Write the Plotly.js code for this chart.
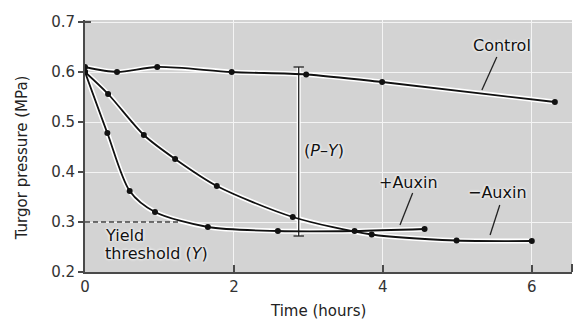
<!DOCTYPE html>
<html>
<head>
<meta charset="utf-8">
<script src="https://cdn.plot.ly/plotly-3.0.1.min.js"></script>
<style>html,body{margin:0;padding:0;background:#fff;}#chart{width:578px;height:321px;}</style>
</head>
<body>
<div id="chart"></div>
<script>
// Data
const controlT = [0, 0.43, 0.97, 1.97, 2.97, 3.99, 6.31];
const controlP = [0.61, 0.60, 0.61, 0.60, 0.595, 0.58, 0.54];
const plusAuxinT = [0, 0.30, 0.60, 0.94, 1.65, 2.59, 3.62, 4.56];
const plusAuxinP = [0.60, 0.478, 0.362, 0.32, 0.29, 0.282, 0.282, 0.286];
const minusAuxinT = [0, 0.31, 0.79, 1.21, 1.77, 2.79, 3.85, 4.99, 6.0];
const minusAuxinP = [0.60, 0.556, 0.474, 0.426, 0.372, 0.31, 0.275, 0.263, 0.262];
const yieldThreshold = 0.30;
const yieldLineEndT = 1.25;
const pyBracketT = 2.87;
const pyBracketTop = 0.61;
const pyBracketBottom = 0.272;
const xTicks = [0, 2, 4, 6];
const yTicks = [0.2, 0.3, 0.4, 0.5, 0.6, 0.7];

const font = "'DejaVu Sans', 'Open Sans', sans-serif";
const axisColor = '#4a4a4a';
const glow = '0 0 3px #fff, 0 0 3px #fff';

function halo(x, y) {
  return {x, y, mode: 'lines', line: {color: '#ffffff', width: 5, shape: 'spline', smoothing: 0.8},
    hoverinfo: 'skip', showlegend: false};
}
function series(x, y, name) {
  return {x, y, name, mode: 'lines+markers',
    line: {color: '#111', width: 1.8, shape: 'spline', smoothing: 0.8},
    marker: {color: '#111', size: 6}, showlegend: false};
}

const traces = [
  halo(controlT, controlP), halo(plusAuxinT, plusAuxinP), halo(minusAuxinT, minusAuxinP),
  {x: [0, yieldLineEndT], y: [yieldThreshold, yieldThreshold], mode: 'lines',
    line: {color: '#444', width: 1.3, dash: '5px,3px'}, showlegend: false, hoverinfo: 'skip'},
  {x: [pyBracketT, pyBracketT], y: [pyBracketBottom, pyBracketTop], mode: 'lines',
    line: {color: '#ffffff', width: 4}, showlegend: false, hoverinfo: 'skip'},
  {x: [pyBracketT, pyBracketT], y: [pyBracketBottom, pyBracketTop], mode: 'lines',
    line: {color: '#222', width: 1.3}, showlegend: false, hoverinfo: 'skip'},
  series(controlT, controlP, 'Control'),
  series(plusAuxinT, plusAuxinP, '+Auxin'),
  series(minusAuxinT, minusAuxinP, '−Auxin')
];

function leader(x0, y0, x1, y1) {
  return {type: 'line', xref: 'x', yref: 'y', x0, y0, x1, y1, line: {color: '#222', width: 1.3}};
}
const shapes = [
  leader(5.53, 0.63, 5.33, 0.564),
  leader(4.40, 0.358, 4.23, 0.294),
  leader(5.57, 0.334, 5.44, 0.274),
  {type: 'line', xref: 'x', yref: 'y', x0: pyBracketT - 0.07, x1: pyBracketT + 0.07, y0: pyBracketTop, y1: pyBracketTop, line: {color: '#222', width: 1.3}},
  {type: 'line', xref: 'x', yref: 'y', x0: pyBracketT - 0.07, x1: pyBracketT + 0.07, y0: pyBracketBottom, y1: pyBracketBottom, line: {color: '#222', width: 1.3}},
  {type: 'line', xref: 'paper', yref: 'y', x0: 1, x1: 1, y0: 0.2, y1: 0.216, line: {color: axisColor, width: 2}},
  {type: 'line', xref: 'x', yref: 'y', x0: 0, x1: 0.08, y0: 0.7, y1: 0.7, line: {color: axisColor, width: 2}}
];

function label(text, x, y, xanchor) {
  return {text, x, y, xref: 'x', yref: 'y', showarrow: false, xanchor: xanchor || 'center', yanchor: 'middle',
    font: {family: font, size: 16, color: '#111', shadow: glow}};
}
const annotations = [
  label('Control', 5.60, 0.654),
  label('+Auxin', 4.34, 0.38),
  label('−Auxin', 5.54, 0.36),
  label('(<i>P</i>–<i>Y</i>)', 2.92, 0.444, 'left'),
  label('Yield', 0.24, 0.274, 'left'),
  label('threshold (<i>Y</i>)', 0.24, 0.238, 'left'),
  {text: 'Time (hours)', xref: 'paper', yref: 'paper', x: 0.478, y: -0.155, showarrow: false,
    xanchor: 'center', yanchor: 'middle', font: {family: font, size: 15, color: '#222'}},
  {text: 'Turgor pressure (MPa)', xref: 'paper', yref: 'paper', x: -0.129, y: 0.452, showarrow: false,
    textangle: -90, xanchor: 'center', yanchor: 'middle', font: {family: font, size: 15, color: '#222'}}
];

const layout = {
  width: 578, height: 321,
  margin: {l: 85, r: 6, t: 20, b: 49},
  paper_bgcolor: '#ffffff', plot_bgcolor: '#d3d3d3',
  font: {family: font, size: 15, color: '#333'},
  xaxis: {range: [0, 6.54], tickvals: xTicks, ticktext: xTicks.map(String), ticks: 'inside', ticklen: 7,
    tickcolor: axisColor, tickwidth: 1.5, showline: true, linecolor: axisColor, linewidth: 2,
    showgrid: true, gridcolor: '#f4f4f4', gridwidth: 1, zeroline: false, fixedrange: true},
  yaxis: {range: [0.2, 0.704], tickvals: yTicks, ticktext: yTicks.map(v => v.toFixed(1)), ticks: 'outside', ticklen: 5,
    tickcolor: axisColor, tickwidth: 1.5, showline: true, linecolor: axisColor, linewidth: 2,
    showgrid: true, gridcolor: '#f4f4f4', gridwidth: 1, zeroline: false, fixedrange: true},
  shapes, annotations, showlegend: false
};

Plotly.newPlot('chart', traces, layout, {displayModeBar: false, staticPlot: true});
</script>
</body>
</html>
